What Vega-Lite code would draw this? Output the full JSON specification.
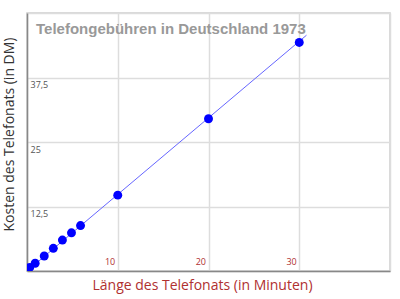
{
  "$schema": "https://vega.github.io/schema/vega-lite/v6.json",
  "autosize": "none",
  "width": 363,
  "height": 258,
  "padding": {"left": 27, "top": 13, "right": 10, "bottom": 28},
  "background": "white",
  "title": {
    "text": "Telefongebühren in Deutschland 1973",
    "orient": "top",
    "anchor": "start",
    "frame": "group",
    "dx": 9,
    "offset": -36,
    "baseline": "alphabetic",
    "font": "Liberation Sans",
    "fontSize": 15,
    "fontWeight": "bold",
    "color": "#999999"
  },
  "config": {
    "view": {"stroke": "#cccccc", "strokeWidth": 1.5},
    "axis": {
      "grid": true,
      "gridColor": "#dddddd",
      "gridWidth": 1.5,
      "ticks": false,
      "domainColor": "#888888",
      "domainWidth": 1.5,
      "labelFont": "Open Sans",
      "labelFontSize": 9,
      "titleFont": "Open Sans",
      "titleFontSize": 14,
      "titleFontWeight": "normal"
    }
  },
  "datasets": {
    "points": [
      {"minutes": 0.3, "cost": 0.7},
      {"minutes": 0.9, "cost": 1.5},
      {"minutes": 1.9, "cost": 2.9},
      {"minutes": 2.9, "cost": 4.4},
      {"minutes": 3.9, "cost": 6.0},
      {"minutes": 4.9, "cost": 7.4},
      {"minutes": 5.9, "cost": 8.8},
      {"minutes": 10, "cost": 14.7},
      {"minutes": 20, "cost": 29.5},
      {"minutes": 30, "cost": 44.3}
    ],
    "trend": [
      {"minutes": 0, "cost": 0},
      {"minutes": 30.8, "cost": 45.7}
    ]
  },
  "layer": [
    {
      "data": {"name": "trend"},
      "mark": {"type": "line", "color": "#6666ff", "strokeWidth": 1},
      "encoding": {
        "x": {
          "field": "minutes",
          "type": "quantitative",
          "scale": {"domain": [0, 40], "nice": false},
          "axis": {
            "title": "Länge des Telefonats (in Minuten)",
            "titleColor": "#b03030",
            "titleX": 175,
            "titleY": 18,
            "titleBaseline": "alphabetic",
            "values": [0, 10, 20, 30, 40],
            "labelExpr": "datum.value == 0 || datum.value == 40 ? '' : datum.label",
            "labelAlign": "right",
            "labelBaseline": "bottom",
            "labelPadding": -5,
            "labelOffset": -3,
            "labelColor": "#b03030"
          }
        },
        "y": {
          "field": "cost",
          "type": "quantitative",
          "scale": {"domain": [0, 50], "nice": false},
          "axis": {
            "title": "Kosten des Telefonats (in DM)",
            "titleColor": "#333333",
            "titleX": -11,
            "titleY": 121,
            "titleBaseline": "bottom",
            "values": [0, 12.5, 25, 37.5, 50],
            "labelExpr": "datum.value == 0 || datum.value == 50 ? '' : replace(format(datum.value, '.1~f'), '.', ',')",
            "labelAlign": "left",
            "labelBaseline": "top",
            "labelPadding": -3,
            "labelOffset": 3,
            "labelColor": "#555555"
          }
        }
      }
    },
    {
      "data": {"name": "points"},
      "mark": {"type": "circle", "color": "#0000ff", "opacity": 1, "size": 80, "clip": true},
      "encoding": {
        "x": {"field": "minutes", "type": "quantitative"},
        "y": {"field": "cost", "type": "quantitative"}
      }
    }
  ]
}
